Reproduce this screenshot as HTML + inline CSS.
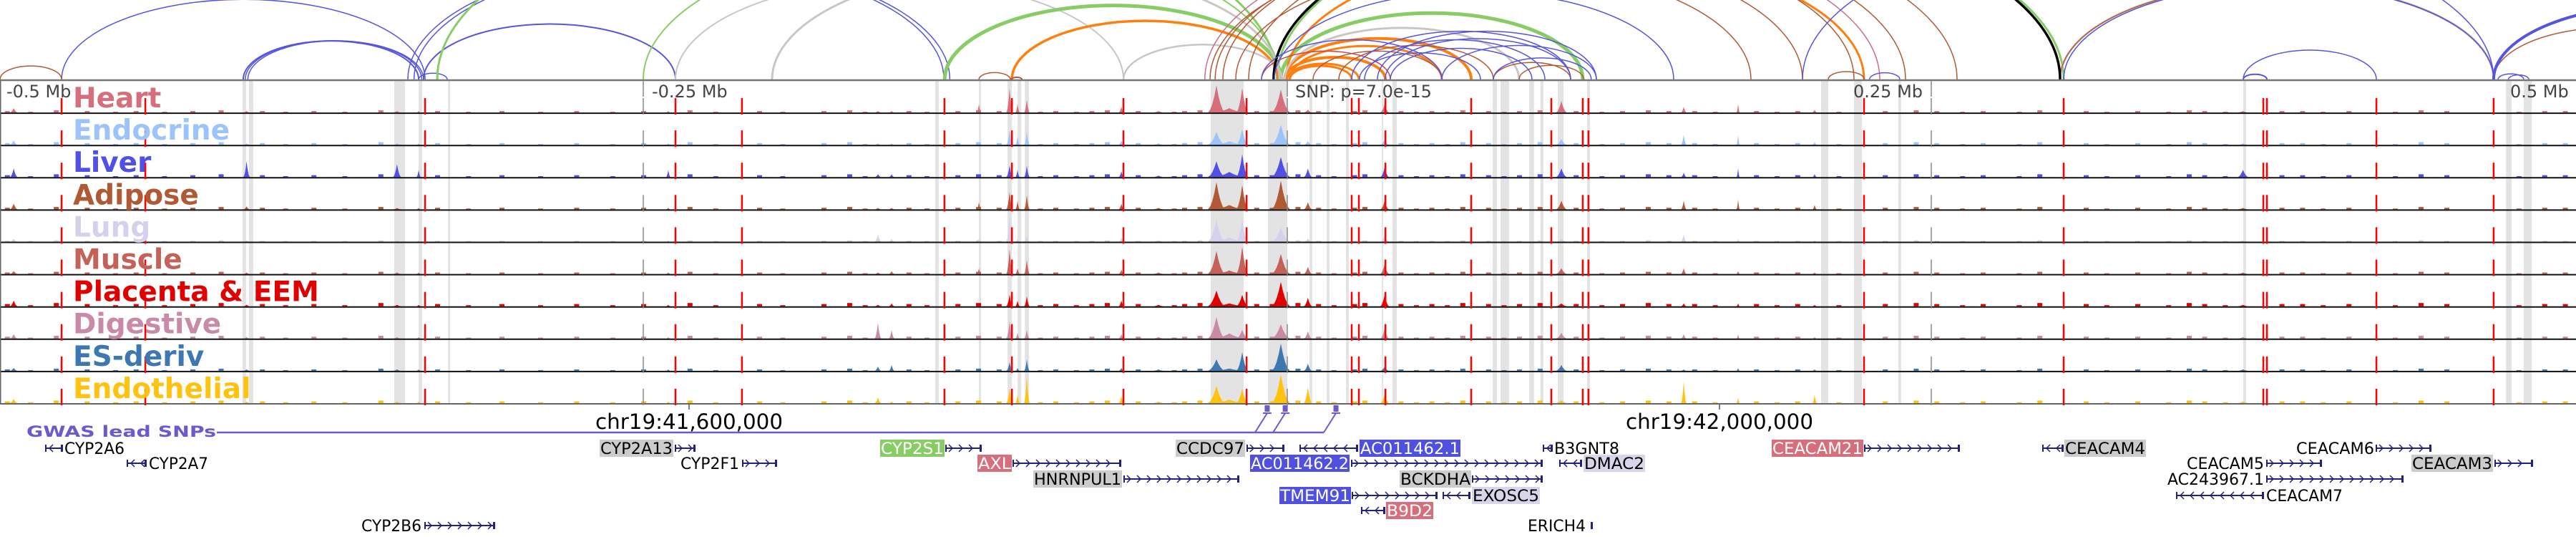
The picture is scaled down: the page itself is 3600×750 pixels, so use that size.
<!DOCTYPE html>
<html><head><meta charset="utf-8"><title>Locus plot chr19</title>
<style>
html,body{margin:0;padding:0;background:#fff;}
svg{display:block;font-family:"DejaVu Sans","Liberation Sans",sans-serif;}
</style></head>
<body>
<svg id="fig" width="3600" height="750" viewBox="0 0 3600 750" xmlns="http://www.w3.org/2000/svg">
<g id="arcs"></g>
<g id="bands"></g>
<g id="tracks"></g>
<g id="vlines"></g>
<g id="labels"></g>
<g id="axis"></g>
<g id="gwas"></g>
<g id="genes"></g>
</svg>
<script>
// ---------- data ----------
const tissueNames = ["Heart","Endocrine","Liver","Adipose","Lung","Muscle","Placenta & EEM","Digestive","ES-deriv","Endothelial"];
const tissueColors = ["#d66e7b","#9cc3fb","#5050e6","#b05a35","#d6d0ec","#c4625a","#e00000","#c98aa8","#3e78b2","#ffc20e"];
const peakKb = [-27.5,-17.5,-2.5,-107.8,-101.1,-104.7,37.8,106.4,153.9,-64.4,-404,-345.6,-337.2,-494.4,-240.3,-158.9,-153.6,175,204.7,-119.7,-22.5,371,-50,8];
const peakWidth = [3.2,2.2,3.4,1.2,1.0,0.8,1.6,2.0,1.0,1.0,1.2,1.5,0.8,1.4,0.8,1.2,1.0,0.6,0.8,0.8,6,2.0,2,1.5];
const peakHeights = [
 [0.95,0.85,0.80,0.85,0.45,0.30,0.30,0.40,0.20,0.20,0.05,0.05,0.05,0.15,0.05,0.05,0.05,0.30,0.10,0.30,0.15,0.05,0.05,0.10],
 [0.45,0.55,0.70,0.50,0.45,0.30,0.20,0.20,0.35,0.15,0.05,0.05,0.05,0.15,0.05,0.05,0.05,0.35,0.10,0.10,0.12,0.05,0.05,0.12],
 [0.55,0.80,0.70,0.40,0.40,0.25,0.35,0.30,0.15,0.20,0.55,0.45,0.25,0.30,0.25,0.10,0.10,0.30,0.10,0.10,0.18,0.25,0.05,0.30],
 [0.95,0.85,1.00,0.60,0.50,0.30,0.30,0.30,0.30,0.20,0.10,0.05,0.05,0.20,0.05,0.05,0.05,0.35,0.15,0.25,0.15,0.05,0.05,0.25],
 [0.75,0.75,0.50,0.90,0.20,0.10,0.20,0.10,0.25,0.15,0.05,0.05,0.05,0.10,0.05,0.25,0.10,0.10,0.05,0.10,0.15,0.05,0.05,0.10],
 [0.80,0.95,0.70,0.85,0.50,0.20,0.35,0.20,0.20,0.15,0.05,0.05,0.05,0.10,0.05,0.05,0.10,0.10,0.05,0.20,0.12,0.05,0.05,0.25],
 [0.55,0.40,0.85,0.40,0.35,0.20,0.40,0.10,0.10,0.20,0.05,0.05,0.05,0.20,0.05,0.05,0.10,0.10,0.05,0.10,0.10,0.05,0.05,0.30],
 [0.75,0.30,0.50,0.60,0.30,0.20,0.35,0.20,0.15,0.15,0.05,0.05,0.05,0.15,0.05,0.55,0.30,0.15,0.05,0.10,0.18,0.05,0.05,0.25],
 [0.40,0.65,0.95,0.30,0.40,0.10,0.15,0.20,0.05,0.10,0.05,0.05,0.05,0.10,0.05,0.15,0.20,0.10,0.05,0.10,0.08,0.05,0.05,0.25],
 [0.60,0.50,1.00,0.50,0.95,0.30,0.30,0.10,0.75,0.25,0.05,0.05,0.05,0.15,0.05,0.20,0.05,0.20,0.30,0.05,0.12,0.05,0.05,0.55]
];
const noiseKb = [-497,-488,-478,-466,-455,-447,-436,-425,-414,-398,-389,-378,-366,-352,-330,-318,-305,-290,-276,-262,-250,-232,-222,-205,-196,-180,-170,-164,-147,-140,-128,-120,-112,-96,-90,-82,-76,-70,-58,-44,-40,-34,-12,-6,4,12,18,26,30,44,50,56,62,68,78,84,90,98,112,122,130,140,148,158,166,182,190,198,214,232,244,252,262,270,284,292,310,318,330,342,350,356,364,386,394,402,412,430,440,450,478,488,496];
const noiseH = [2,1,3,2,1,2,1,2,3,2,1,2,1,3,2,1,2,1,2,1,2,3,1,2,1,2,3,1,2,1,2,3,2,1,2,1,2,3,2,1,2,3,2,2,3,2,1,2,3,2,1,2,1,3,2,1,2,3,2,1,2,3,2,2,1,2,1,2,1,2,3,2,1,2,1,3,2,1,2,1,3,2,1,2,2,1,2,1,3,2,1,2,2];
const tissueNoise = [1,1.2,1.3,1.1,0.6,1.0,1.5,1.3,1.0,1.2];
const redKb = [-475.8,-443.3,-334.7,-237.5,-211.7,-133.1,-106.9,-63.6,-15.8,25,27.8,38.1,71.4,102.5,114.7,116.9,223.9,301.4,378.9,380.3,422.8,468.3];
const bandStart = [-405.6,-403.1,-346.7,-337.2,-325.8,-136.7,-119.7,-108.6,-104.7,-101.9,-29.7,-7.5,8.6,15.3,22.8,36.7,40.8,79.7,82.8,93.9,98.3,105,116.4,207.2,220,237.2,371.1,473.1,480];
const bandEnd   = [-404.2,-401.4,-342.5,-335.8,-325,-135.3,-118.9,-106.9,-103.3,-100.3,-16.9,0,9.7,16.4,23.9,37.2,42.5,81.4,86.1,95.8,99.4,107.2,117.5,210,223.1,238.3,372.2,475.3,483.1];
const arcStart = [-475.8,-405.3,-404.5,-403.5,-341.4,-339,-335.3,-337.2,-237.5,-499.7,-133,-2.5,-4,-330,-250,-106.9,-1,-1,0,1,-0.5,1,-63.6,-200,-1,300,-119.7,-107,-30,-28,-25,-20,-15,10,20,80,90,210,300,468.3,-32,-10,-5.3,25,30,35,40,28,60,80,38,-10,226,301.4,371.1,371.1,200,468.3,470,474,-5];
const arcEnd   = [-334.7,-337.2,-336,-335.3,-133.3,-131,-237.5,-326.1,-63.6,-475.8,-2.5,114.7,301.4,-4,-3,-3.5,71.4,38.1,27.8,25,223.9,60,-2,-3,90,468.3,-107.5,-103,200,220,240,180,260,60,80,110,115,224,468.3,560,230,40,300,110,100,120,95,75,120,118,110,60,237.8,468.3,422.8,380.3,468.3,600,480,482,150];
const arcColor = ["B","B","B","B","B","B","B","B","Gy","Br","G","G","G","G","G","O","O","O","O","O","O","O","Gy","Gy","Gy","Gy","Br","Br","Br","Br","Br","Br","Br","Br","Br","Br","Br","Br","Br","Br","P","R","K","B","B","B","B","B","B","B","B","B","B","B","B","B","B","B","B","B","B"];
const arcWidth = [1.5,2,1.5,1.5,1.5,1.5,2,1.5,2,1.5,5,5,3,3,2,3.5,4,4,3,3,3,3,2.5,3,3,3,1.5,2,1.5,1.5,1.5,1.5,1.5,1.5,1.5,1.5,1.5,1.5,1.5,1.5,1.5,1.5,3.5,1.5,1.5,1.5,1.5,1.5,1.5,1.5,1.5,1.5,1.5,1.5,1.5,2,1.5,4,1.5,1.5,1.5];
const palette = {B:"#5555dd",G:"#88cc66",O:"#ff7f0e",Gy:"#cac6c6",Br:"#b05a35",P:"#c87080",R:"#d04040",K:"#000000"};
const mbTicks = [-0.5,-0.25,0,0.25,0.5];
const mbLabels = ["-0.5 Mb","-0.25 Mb","SNP: p=7.0e-15","0.25 Mb","0.5 Mb"];
const genes = [
 ["CYP2A6",90,174,63,88,0,-1,null,"#000"],
 ["CYP2A7",208,291,177,205,1,-1,null,"#000"],
 ["CYP2A13",839,940,943,972,0,1,"#cccccc","#000"],
 ["CYP2F1",951,1033,1037,1086,1,1,null,"#000"],
 ["CYP2B6",505,589,593,692,5,1,null,"#000"],
 ["CYP2S1",1231,1319,1321,1372,0,1,"#88cc66","#fff"],
 ["AXL",1367,1413,1415,1567,1,1,"#d66e7b","#fff"],
 ["HNRNPUL1",1445,1567,1570,1732,2,1,"#cccccc","#000"],
 ["CCDC97",1644,1739,1742,1795,0,1,"#cccccc","#000"],
 ["AC011462.1",1901,2040,1816,1898,0,-1,"#5050e0","#fff"],
 ["AC011462.2",1748,1885,1888,2156,1,1,"#5050e0","#fff"],
 ["B3GNT8",2172,2263,2156,2170,0,-1,null,"#000"],
 ["DMAC2",2214,2298,2179,2211,1,-1,"#d8d4ea","#000"],
 ["BCKDHA",1957,2055,2057,2156,2,1,"#cccccc","#000"],
 ["TMEM91",1789,1887,1889,2009,3,1,"#5050e0","#fff"],
 ["EXOSC5",2058,2151,2016,2055,3,-1,"#d8d4ea","#000"],
 ["B9D2",1938,2002,1902,1936,4,-1,"#d66e7b","#fff"],
 ["ERICH4",2135,2216,2223,2226,5,1,null,"#000"],
 ["CEACAM21",2477,2603,2605,2739,0,1,"#d66e7b","#fff"],
 ["CEACAM4",2886,2998,2854,2884,0,-1,"#cccccc","#000"],
 ["CEACAM6",3209,3318,3320,3398,0,1,null,"#000"],
 ["CEACAM5",3056,3164,3167,3245,1,1,null,"#000"],
 ["CEACAM3",3371,3483,3486,3540,1,1,"#cccccc","#000"],
 ["AC243967.1",3029,3164,3167,3359,2,1,null,"#000"],
 ["CEACAM7",3167,3274,3041,3164,3,-1,null,"#000"]
];
const gwasKb = [-7.8,-0.8,18.9];

// ---------- helpers ----------
const NS="http://www.w3.org/2000/svg";
const SNPX=1799, PXKB=3.6;
function xs(kb){return SNPX+kb*PXKB;}
const TOP=113, PITCH=45.1, NT=10;
function trackTop(i){return TOP+i*PITCH;}
function mk(tag,attrs,parent){const e=document.createElementNS(NS,tag);for(const k in attrs)e.setAttribute(k,attrs[k]);parent.appendChild(e);return e;}
const gArcs=document.getElementById('arcs'),gBands=document.getElementById('bands'),gTracks=document.getElementById('tracks'),
gV=document.getElementById('vlines'),gLab=document.getElementById('labels'),gAxis=document.getElementById('axis'),
gGwas=document.getElementById('gwas'),gGenes=document.getElementById('genes');

const defs=mk('defs',{},document.getElementById('fig'));
const cp=mk('clipPath',{id:'arcclip'},defs);mk('rect',{x:0,y:0,width:3600,height:111},cp);
gArcs.setAttribute('clip-path','url(#arcclip)');

const BASE=111;
for(let i=0;i<arcStart.length;i++){
  const x1=xs(arcStart[i]),x2=xs(arcEnd[i]);const span=Math.abs(x2-x1);
  const ry=0.22*span, rx=span/2;
  const p=mk('path',{d:`M${Math.min(x1,x2)} ${BASE} A${rx} ${ry} 0 0 1 ${Math.max(x1,x2)} ${BASE}`,fill:'none',stroke:palette[arcColor[i]],'stroke-width':arcWidth[i]},gArcs);
  
  
}

for(let i=0;i<bandStart.length;i++){
  const x1=xs(bandStart[i]),x2=xs(bandEnd[i]);
  const r=mk('rect',{x:x1,y:TOP,width:Math.max(2,x2-x1),height:NT*PITCH,fill:'#e3e3e3'},gBands);
  
  
}

for(let t=0;t<NT;t++){
  const top=trackTop(t), bot=top+PITCH-1, col=tissueColors[t], H=40;
  const g=mk('g',{},gTracks);
  
  
  for(let k=0;k<noiseKb.length;k++){
    const h=Math.max(1,noiseH[k]*tissueNoise[t]);
    mk('rect',{x:xs(noiseKb[k])-3,y:bot-h,width:7,height:h,fill:col},g);
  }
  for(let p=0;p<peakKb.length;p++){
    const hmax=peakHeights[t][p]*H, w=peakWidth[p]*PXKB, cx=xs(peakKb[p]);
    let pts=`${cx-w},${bot} `;
    for(let s=-4;s<=4;s++){const f=1-Math.abs(s)/4.5;const h=hmax*f*f;pts+=`${cx+s*w/4},${bot-h} `;}
    pts+=`${cx+w},${bot}`;
    const poly=mk('polygon',{points:pts,fill:col},g);
    
    
  }
  mk('line',{x1:0,x2:3600,y1:bot+1,y2:bot+1,stroke:'#111','stroke-width':2},g);
}
mk('line',{x1:0,x2:3600,y1:TOP-1,y2:TOP-1,stroke:'#777','stroke-width':2.5},gTracks);
mk('line',{x1:0,x2:3600,y1:TOP+NT*PITCH,y2:TOP+NT*PITCH,stroke:'#666','stroke-width':2},gTracks);
mk('line',{x1:0.5,x2:0.5,y1:TOP,y2:TOP+NT*PITCH,stroke:'#666','stroke-width':2},gTracks);

function dashed(x,color,w){
  for(let t=0;t<NT;t++){const top=trackTop(t);
    mk('line',{x1:x,x2:x,y1:top+24,y2:top+PITCH+2,stroke:color,'stroke-width':w},gV);}
}
for(let i=0;i<redKb.length;i++){dashed(xs(redKb[i]),'#ff0000',2.5);}
[-0.25,0,0.25].forEach(m=>{const x=xs(m*1000);
  mk('line',{x1:x,x2:x,y1:TOP,y2:TOP+22,stroke:'#888','stroke-width':1.5},gV);dashed(x,'#888',1.5);});

const mbX=[9,911,1810,2590,3508];
for(let i=0;i<mbTicks.length;i++){
  const tx=mk('text',{x:mbX[i],y:136,'font-size':24,fill:'#444'},gAxis);tx.textContent=mbLabels[i];
  
  
}
[[963,"chr19:41,600,000"],[2403,"chr19:42,000,000"]].forEach(a=>{
  mk('line',{x1:a[0],x2:a[0],y1:565,y2:572,stroke:'#555','stroke-width':1.5},gAxis);
  const tx=mk('text',{x:a[0],y:599,'font-size':29,'text-anchor':'middle',fill:'#000',textLength:262,lengthAdjust:'spacingAndGlyphs'},gAxis);
  tx.textContent=a[1];
  
  
});

for(let t=0;t<NT;t++){
  const tx=mk('text',{x:102,y:trackTop(t)+37,'font-size':39,'font-weight':'bold',fill:tissueColors[t]},gLab);
  tx.textContent=tissueNames[t];
  
  
}

const gl=mk('text',{x:37,y:610,'font-size':21,'font-weight':'bold',fill:'#6a5acd',textLength:265,lengthAdjust:'spacingAndGlyphs'},gGwas);
gl.textContent='GWAS lead SNPs';


const lastX=xs(gwasKb[gwasKb.length-1]);
mk('line',{x1:303,x2:lastX-17,y1:604,y2:604,stroke:'#6a5acd','stroke-width':2.5},gGwas);
for(let i=0;i<gwasKb.length;i++){
  const x=xs(gwasKb[i]);
  const m=mk('rect',{x:x-3.5,y:566,width:7,height:9,fill:'#6a5acd'},gGwas);
  
  
  mk('line',{x1:x-6,x2:x+6,y1:577,y2:577,stroke:'#6a5acd','stroke-width':2},gGwas);
  mk('line',{x1:x,x2:x-17,y1:577,y2:604,stroke:'#6a5acd','stroke-width':2},gGwas);
}

const rowY=[626,647,669,692,713,734];
genes.forEach(g=>{
  const [name,l1,l2,b1,b2,row,strand,bg,fg]=g;const y=rowY[row];
  const grp=mk('g',{},gGenes);
  
  
  if(bg) mk('rect',{x:l1-1,y:y-12,width:l2-l1+2,height:24,fill:bg},grp);
  const tx=mk('text',{x:l1,y:y+8,'font-size':22,fill:fg,textLength:l2-l1,lengthAdjust:'spacingAndGlyphs'},grp);
  tx.textContent=name;
  mk('line',{x1:b1,x2:b2,y1:y,y2:y,stroke:'#22227a','stroke-width':2},grp);
  for(let x=b1+8;x<b2-4;x+=14){
    const d=strand>0?`M${x-3} ${y-5} L${x+2} ${y} L${x-3} ${y+5}`:`M${x+3} ${y-5} L${x-2} ${y} L${x+3} ${y+5}`;
    mk('path',{d:d,fill:'none',stroke:'#22227a','stroke-width':1.5},grp);
  }
  mk('rect',{x:b1,y:y-5,width:2,height:10,fill:'#22227a'},grp);
  mk('rect',{x:b2-3,y:y-5,width:3,height:10,fill:'#22227a'},grp);
});
</script>
</body></html>
